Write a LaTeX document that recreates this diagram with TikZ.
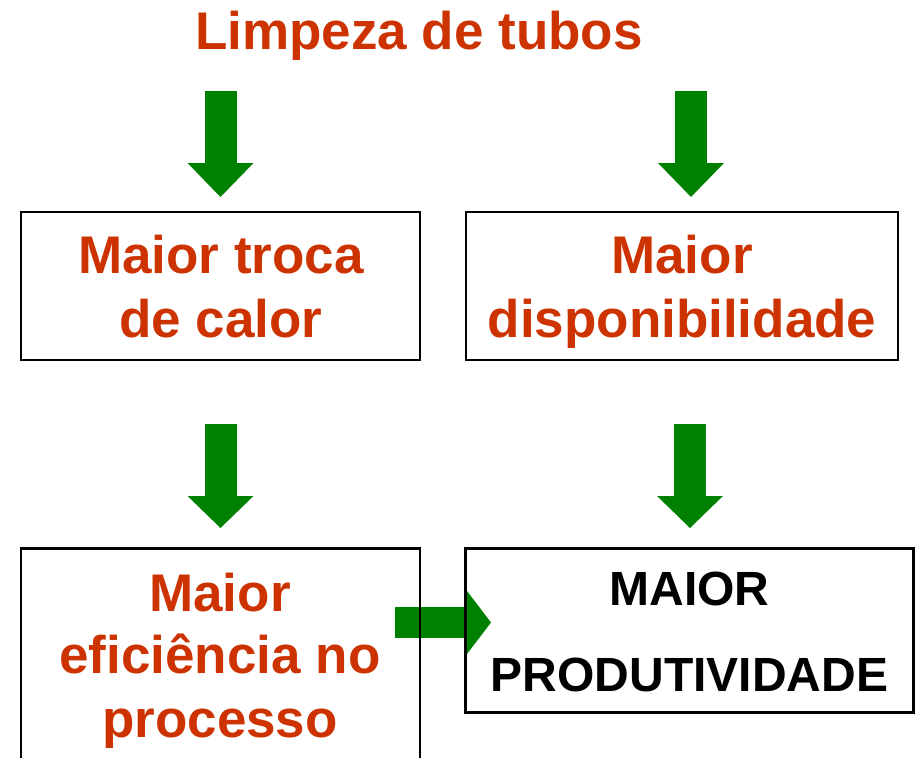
\documentclass[tikz,border=0pt]{standalone}
\usepackage{fontspec}
\setmainfont{Liberation Sans}
\usetikzlibrary{arrows.meta,backgrounds}
\definecolor{tred}{RGB}{204,51,0}
\definecolor{bgreen}{RGB}{0,128,0}
\begin{document}
\begin{tikzpicture}[x=1pt,y=-1pt,
  box/.style={draw=black,line width=2.5pt,rectangle,inner sep=0pt},
  txt/.style={anchor=base,inner sep=0pt,text=tred,font=\fontsize{53}{63}\selectfont\bfseries},
  txtb/.style={anchor=base,inner sep=0pt,text=black,font=\fontsize{48}{58}\selectfont\bfseries},
  blkv/.style={draw=bgreen,line width=32pt,-{Triangle[width=66pt,length=34pt,line width=0pt]}},
  blkv2/.style={draw=bgreen,line width=32pt,-{Triangle[width=66pt,length=32pt,line width=0pt]}},
  blkh/.style={draw=bgreen,line width=31pt,-{Triangle[width=63pt,length=24pt,line width=0pt]}}]
\useasboundingbox (0,0) rectangle (919,758);
\clip (0,0) rectangle (919,758);
% boxes
\node[box,minimum width=399pt,minimum height=148pt] (b1) at (220.5,286) {};
\node[box,minimum width=432pt,minimum height=148pt] (b2) at (682,286) {};
\node[box,minimum width=399pt,minimum height=251pt] (b3) at (220.5,674) {};
\node[box,minimum width=448pt,minimum height=164pt] (b4) at (689.5,630.5) {};
% texts
\node[txt] (title) at (419,49) {Limpeza de tubos};
\node[txt] (t1a) at (221,273) {Maior troca};
\node[txt] (t1b) at (221,337) {de calor};
\node[txt] (t2a) at (682,273) {Maior};
\node[txt] (t2b) at (682,337) {disponibilidade};
\node[txt] (t3a) at (220,611) {Maior};
\node[txt] (t3b) at (220,673) {eficiência no};
\node[txt] (t3c) at (220,737) {processo};
\node[txtb] (t4a) at (689.5,605) {MAIOR};
\node[txtb] (t4b) at (689.5,691) {PRODUTIVIDADE};
% arrow end points
\coordinate (a1s) at (220.5,91);  \coordinate (a1e) at (220.5,197);
\coordinate (a2s) at (691,91);    \coordinate (a2e) at (691,197);
\coordinate (a3s) at (220.5,424); \coordinate (a3e) at (220.5,528);
\coordinate (a4s) at (690,424);   \coordinate (a4e) at (690,528);
\coordinate (a5s) at (395,622.5); \coordinate (a5e) at (491,622.5);
\begin{scope}[on background layer]
\draw[blkv] (a1s) -- (a1e);
\draw[blkv] (a2s) -- (a2e);
\draw[blkv2] (a3s) -- (a3e);
\draw[blkv2] (a4s) -- (a4e);
\draw[blkh] (a5s) -- (a5e);
\end{scope}
\end{tikzpicture}
\end{document}
